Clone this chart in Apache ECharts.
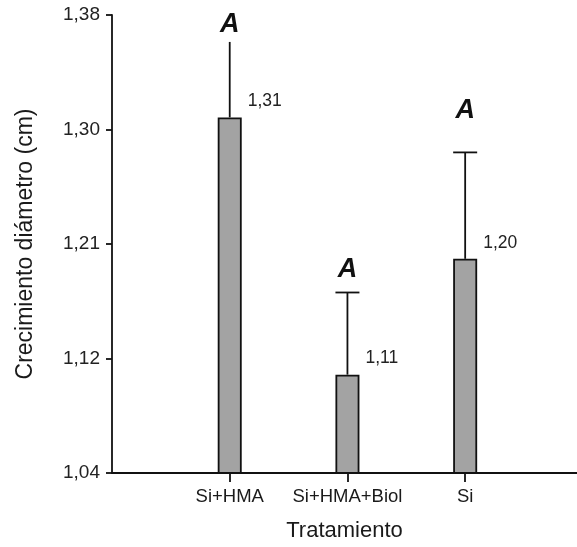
<!DOCTYPE html>
<html>
<head>
<meta charset="utf-8">
<script src="https://cdn.jsdelivr.net/npm/echarts@6/dist/echarts.min.js"></script>
<style>
html,body{margin:0;padding:0;background:#fff;}
#chart{width:577px;height:547px;}
</style>
</head>
<body>
<div id="chart"></div>
<script>
const categories = ['Si+HMA', 'Si+HMA+Biol', 'Si'];
const means = [1.304, 1.113, 1.199];
const errorTop = [1.360, 1.174, 1.278];
const meanLabels = ['1,31', '1,11', '1,20'];
const letters = ['A', 'A', 'A'];
const letterY = [1.3726, 1.191, 1.309];
const yTickValues = [1.04, 1.125, 1.21, 1.295, 1.38];
const yTickLabels = ['1,04', '1,12', '1,21', '1,30', '1,38'];
const xPositions = [1, 2, 3];

const FONT = "'Liberation Sans', Arial, sans-serif";
const showCap = [false, true, true];

function yLabel(v) {
  let best = 0;
  for (let i = 1; i < yTickValues.length; i++) {
    if (Math.abs(yTickValues[i] - v) < Math.abs(yTickValues[best] - v)) best = i;
  }
  return yTickLabels[best];
}

const chart = echarts.init(document.getElementById('chart'), null, {renderer: 'canvas'});
chart.setOption({
  animation: false,
  backgroundColor: '#fff',
  grid: {left: 112, right: 0, top: 15, bottom: 74, containLabel: false},
  xAxis: {
    type: 'value', min: 0, max: 3.95,
    name: 'Tratamiento', nameLocation: 'middle', nameGap: 47,
    nameTextStyle: {fontFamily: FONT, fontSize: 22, color: '#1a1a1a'},
    axisLine: {show: true, lineStyle: {color: '#111', width: 1.8}},
    axisTick: {show: true, length: 9, customValues: xPositions, lineStyle: {color: '#111', width: 1.8}},
    axisLabel: {customValues: xPositions, margin: 14, fontFamily: FONT, fontSize: 18.5, color: '#1a1a1a',
      formatter: v => categories[Math.round(v) - 1] || ''},
    splitLine: {show: false}
  },
  yAxis: {
    type: 'value', min: 1.04, max: 1.38,
    name: 'Crecimiento diámetro (cm)', nameLocation: 'middle', nameGap: 75, nameRotate: 90,
    nameTextStyle: {fontFamily: FONT, fontSize: 23, color: '#1a1a1a'},
    axisLine: {show: true, lineStyle: {color: '#111', width: 1.8}},
    axisTick: {show: true, length: 6, customValues: yTickValues, lineStyle: {color: '#111', width: 1.8}},
    axisLabel: {customValues: yTickValues, margin: 12, fontFamily: FONT, fontSize: 19, color: '#222',
      formatter: v => yLabel(v)},
    splitLine: {show: false}
  },
  series: [
    {
      type: 'bar',
      data: means.map((v, i) => [xPositions[i], v]),
      barWidth: 24,
      clip: true,
      itemStyle: {color: '#a3a3a3', borderColor: '#111', borderWidth: 1.8},
      z: 2
    },
    {
      type: 'custom',
      data: means.map((v, i) => [xPositions[i], v, errorTop[i]]),
      z: 3,
      clip: false,
      renderItem: function (params, api) {
        const i = params.dataIndex;
        const x = api.value(0), m = api.value(1), hi = api.value(2);
        const pm = api.coord([x, m]);
        const ph = api.coord([x, hi]);
        const pl = api.coord([x, letterY[i]]);
        const children = [
          {type: 'line', shape: {x1: pm[0], y1: pm[1], x2: ph[0], y2: ph[1]},
            style: {stroke: '#111', lineWidth: 1.8}}
        ];
        if (showCap[i]) {
          children.push({type: 'line', shape: {x1: ph[0] - 12, y1: ph[1], x2: ph[0] + 12, y2: ph[1]},
            style: {stroke: '#111', lineWidth: 1.8}});
        }
        children.push({type: 'text', x: pm[0] + 18, y: pm[1] - 16,
          style: {text: meanLabels[i], fontFamily: FONT, fontSize: 17.5, fill: '#222',
            align: 'left', verticalAlign: 'middle'}});
        children.push({type: 'text', x: pl[0], y: pl[1],
          style: {text: letters[i], fontFamily: FONT, fontSize: 27, fontWeight: 'bold', fontStyle: 'italic',
            fill: '#111', align: 'center', verticalAlign: 'middle'}});
        return {type: 'group', children: children};
      }
    }
  ]
});
</script>
</body>
</html>
